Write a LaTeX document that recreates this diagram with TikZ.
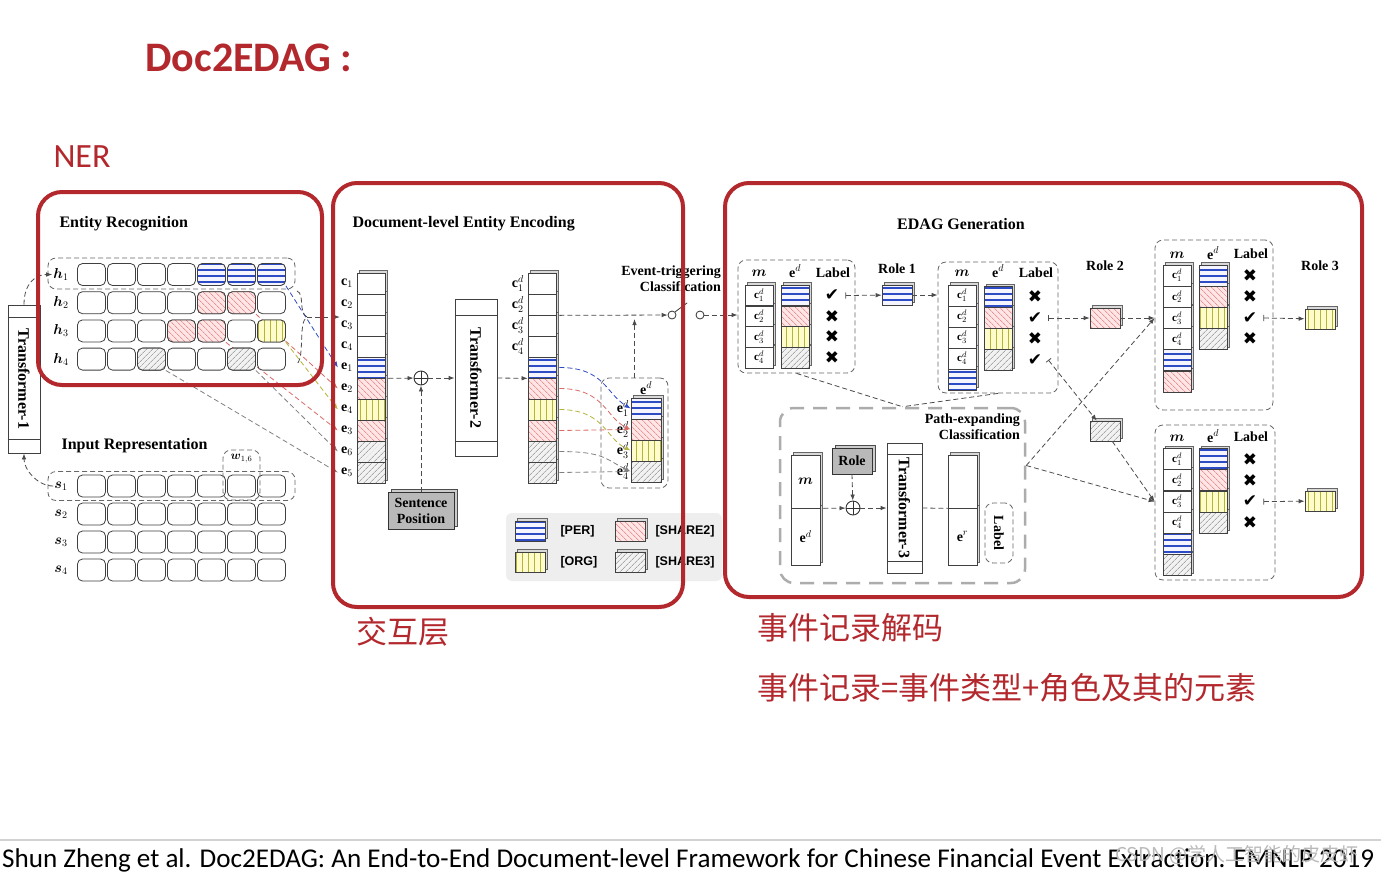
\documentclass[tikz,border=0pt]{standalone}
\usepackage{amsmath}
\usepackage{fontspec}
\setmainfont{Liberation Serif}
\newfontfamily\uifont{Carlito}
\newfontfamily\legfont{Liberation Sans}
\newfontfamily\symfont{DejaVu Sans}
\newfontfamily\cjk{Noto Sans CJK SC}
\usetikzlibrary{positioning,calc,shadows,arrows.meta,patterns.meta}
\pgfdeclarelayer{bg}
\pgfsetlayers{bg,main}

\definecolor{hired}{HTML}{B3282D}
\definecolor{perblue}{HTML}{2E4BC6}
\definecolor{orgline}{HTML}{B5B43A}
\definecolor{shred}{HTML}{DB6A66}

\newcommand{\yes}{{\symfont ✔}}
\newcommand{\nop}{{\symfont ✖}}

\tikzset{
  >={Latex[length=6pt,width=4.5pt]},
  hibox/.style={draw=hired, line width=4pt, rounded corners=24pt},
  flow/.style={draw=black!70, line width=0.8pt, dash pattern=on 5pt off 3pt},
  tok/.style={draw=black!75, line width=0.8pt, fill=white, rounded corners=5pt,
    minimum width=28pt, minimum height=22pt, inner sep=0pt},
  cell/.style={draw=black!75, line width=0.7pt, fill=white, minimum width=28pt,
    minimum height=21pt, inner sep=0pt,
    general shadow={shadow xshift=2.5pt, shadow yshift=2.5pt, fill=gray!30, draw=black!60}},
  plain/.style={},
  per/.style={preaction={fill=blue!4}, pattern={Lines[angle=0,distance=6pt,line width=1.2pt]},
    pattern color=perblue},
  org/.style={preaction={fill=yellow!20}, pattern={Lines[angle=90,distance=6pt,line width=0.9pt]},
    pattern color=orgline},
  shtwo/.style={preaction={fill=red!10}, pattern={Lines[angle=-45,distance=4pt,line width=0.6pt]},
    pattern color=shred},
  shthree/.style={preaction={fill=gray!10}, pattern={Lines[angle=45,distance=4pt,line width=0.6pt]},
    pattern color=gray},
  grp/.style={draw=black!60, line width=0.8pt, dash pattern=on 5pt off 3pt,
    rounded corners=8pt, inner sep=0pt},
  head/.style={font=\bfseries\fontsize{16}{18}\selectfont},
  lbl/.style={font=\bfseries\fontsize{14}{16}\selectfont, inner sep=1pt},
  mathlbl/.style={font=\fontsize{14}{16}\selectfont, inner sep=1pt},
  legtxt/.style={font=\legfont\bfseries\fontsize{12.5}{14}\selectfont, anchor=west},
  mk/.style={font=\fontsize{17}{18}\selectfont, inner sep=0pt},
  tfbox/.style={draw=black!75, line width=0.8pt, fill=white, inner sep=0pt},
  graybox/.style={lbl, draw=black!80, fill=gray!55,
    general shadow={shadow xshift=3pt, shadow yshift=3pt, fill=gray!40, draw=black!70}},
  addop/.style={circle, draw=black!80, line width=0.9pt, minimum size=14pt, inner sep=0pt,
    path picture={\draw[line width=0.9pt] (path picture bounding box.north) -- (path picture bounding box.south)
      (path picture bounding box.west) -- (path picture bounding box.east);}},
}

\begin{document}
\begin{tikzpicture}[x=1pt,y=-1pt]
\useasboundingbox (0,0) rectangle (1381,876);
\begin{pgfonlayer}{bg}
\fill[white] (0,0) rectangle (1381,876);
\end{pgfonlayer}

% titles
\node[anchor=west, text=hired, font=\uifont\bfseries\fontsize{42}{50}\selectfont] (title) at (142,58) {Doc2EDAG :};
\node[anchor=west, text=hired, font=\uifont\fontsize{34}{40}\selectfont] (ner) at (50,157) {NER};

% ---- entity recognition
\node[head, anchor=west] (ertitle) at (56,224) {Entity Recognition};
\node[grp, minimum width=247pt, minimum height=31pt] (hgrp) at (171.5,273.5) {};
\foreach \r in {1,...,4}{
  \node[mathlbl] (hl\r) at (61,{274.5+28.2*(\r-1)}) {$\boldsymbol{h}_{\r}$};
  \foreach \i in {1,...,7}
    \node[tok] (h\r-\i) at ({91.5+30*(\i-1)},{274.5+28.2*(\r-1)}) {};
}
\foreach \r/\i/\s in {1/5/per,1/6/per,1/7/per,2/5/shtwo,2/6/shtwo,3/4/shtwo,3/5/shtwo,3/7/org,4/3/shthree,4/6/shthree}
  \node[tok,\s] (hf\r-\i) at (h\r-\i) {};
\coordinate (brc) at (307,317);
\draw[flow] (297,291) .. controls (305,294) and (298,312) .. (brc) .. controls (298,322) and (305,356) .. (297,364);

% transformer-1
\node[tfbox, minimum width=32pt, minimum height=148pt] (tf1) at (24,379) {};
\draw[black!75] ($(tf1.north west)+(0,13)$) -- ($(tf1.north east)+(0,13)$);
\draw[black!75] ($(tf1.south west)+(0,-14)$) -- ($(tf1.south east)+(0,-14)$);
\node[head, rotate=-90] (tf1txt) at (tf1) {Transformer-1};

% ---- input representation
\node[head, anchor=west] (irtitle) at (58,446) {Input Representation};
\node[grp, minimum width=247pt, minimum height=29pt] (sgrp) at (171.5,486) {};
\foreach \r in {1,...,4}{
  \node[mathlbl] (sl\r) at (61,{486+28*(\r-1)}) {$\boldsymbol{s}_{\r}$};
  \foreach \i in {1,...,7}
    \node[tok] (s\r-\i) at ({91.5+30*(\i-1)},{486+28*(\r-1)}) {};
}
\node[grp, minimum width=37pt, minimum height=50pt] (wgrp) at (241.5,475) {};
\node[mathlbl, font=\fontsize{12}{14}\selectfont, fill=white] (wlbl) at (241.5,459) {$\boldsymbol{w}_{1,6}$};

\draw[flow,->] (tf1.north) .. controls +(0,-22) and +(-16,0) .. (hl1.west);
\draw[flow,->] (sl1.west) .. controls +(-16,0) and +(0,16) .. (tf1.south);

% ---- document-level entity encoding
\node[head, anchor=west] (detitle) at (349,224) {Document-level Entity Encoding};
\foreach \k/\s in {10/shthree,9/shthree,8/shtwo,7/org,6/shtwo,5/per,4/plain,3/plain,2/plain,1/plain}{
  \node[cell,\s] (cL\k) at (371,{283.5+21*(\k-1)}) {};
  \node[cell,\s] (cR\k) at (542,{283.5+21*(\k-1)}) {};
}
\foreach \k in {1,...,4}{
  \node[mathlbl, anchor=east] (cLl\k) at (354,{283.5+21*(\k-1)}) {$\mathbf{c}_{\k}$};
  \node[mathlbl, anchor=east] (cRl\k) at (525,{283.5+21*(\k-1)}) {$\mathbf{c}^d_{\k}$};
}
\foreach \k/\j in {5/1,6/2,7/4,8/3,9/6,10/5}
  \node[mathlbl, anchor=east] (cLl\k) at (354,{283.5+21*(\k-1)}) {$\mathbf{e}_{\j}$};
\draw[flow,->] (brc) -- (cLl3.west |- brc);

\node[addop] (add1) at (421,378) {};
\node[tfbox, minimum width=42pt, minimum height=157pt] (tf2) at (476,378) {};
\draw[black!75] ($(tf2.north west)+(0,16)$) -- ($(tf2.north east)+(0,16)$);
\draw[black!75] ($(tf2.south west)+(0,-16)$) -- ($(tf2.south east)+(0,-16)$);
\node[head, rotate=-90] (tf2txt) at (tf2) {Transformer-2};
\node[graybox, align=center, minimum width=66pt, minimum height=37pt] (spos) at (421,511) {Sentence\\Position};

\draw[flow,->] ([xshift=3pt]cL5.south east) -- (add1);
\draw[flow,->] (add1) -- (tf2.west |- add1);
\draw[flow,->] (spos.north) -- (add1);
\draw[flow,->] (tf2.east |- add1) -- (cR5.south west);

\node[grp, minimum width=67pt, minimum height=110pt] (edgrp) at (634.5,433) {};
\node[mathlbl] (edlbl) at (646,388) {$\mathbf{e}^d$};
\foreach \k/\s in {4/shthree,3/org,2/shtwo,1/per}{
  \node[cell,\s,minimum width=30pt] (ed\k) at (646,{408.5+21*(\k-1)}) {};
  \node[mathlbl, anchor=east] (edl\k) at (630,{408.5+21*(\k-1)}) {$\mathbf{e}^d_{\k}$};
}
\node[lbl, align=right, anchor=north east] (etc) at (722,265) {Event-triggering\\Classification};
\node[circle, draw=black!80, line width=0.8pt, minimum size=8pt, inner sep=0pt] (sw1) at (672,315) {};
\node[circle, draw=black!80, line width=0.8pt, minimum size=8pt, inner sep=0pt] (sw2) at (700,315) {};
\draw[black!80, line width=0.8pt] (sw1.north east) -- ++(12,-9);
\draw[flow,->] ([xshift=3pt]cR2.south east) -- (sw1);
\draw[flow,->] (edgrp.north) -- ($(edgrp.north |- sw1)+(0,4)$);

% legend
\fill[gray!13, rounded corners=6pt] (506,513) rectangle (722,581);
\node[cell,per,minimum width=30pt,minimum height=20pt] (lgper) at (530,531) {};
\node[legtxt] (lgpert) at (557,531) {[PER]};
\node[cell,shtwo,minimum width=30pt,minimum height=20pt] (lgsh2) at (630,531) {};
\node[legtxt] (lgsh2t) at (652,531) {[SHARE2]};
\node[cell,org,minimum width=30pt,minimum height=20pt] (lgorg) at (530,562) {};
\node[legtxt] (lgorgt) at (557,562) {[ORG]};
\node[cell,shthree,minimum width=30pt,minimum height=20pt] (lgsh3) at (630,562) {};
\node[legtxt] (lgsh3t) at (652,562) {[SHARE3]};

% ---- EDAG generation
\node[head] (edagtitle) at (961,224) {EDAG Generation};

% record box A
\node[grp, minimum width=117pt, minimum height=113pt] (boxA) at (796.5,316.5) {};
\node[mathlbl] (Ahm) at (759,273) {$\boldsymbol{m}$};
\node[mathlbl] (Ahe) at (795,271) {$\mathbf{e}^d$};
\node[lbl] (Ahl) at (833,273) {Label};
\foreach \k/\s/\lab in {4/shthree/\nop,3/org/\nop,2/shtwo/\nop,1/per/\yes}{
  \node[cell, minimum height=20.5pt, font=\fontsize{11}{12}\selectfont] (Am\k) at (759,{295.5+20.7*(\k-1)}) {$\mathbf{c}^d_{\k}$};
  \node[cell, \s, minimum height=20.5pt] (Ae\k) at (795,{295.5+20.7*(\k-1)}) {};
  \node[mk] (Al\k) at (832,{295.5+20.7*(\k-1)}) {\lab};
}

% record box B
\node[grp, minimum width=120pt, minimum height=131pt] (boxB) at (998,327.5) {};
\node[mathlbl] (Bhm) at (962,273) {$\boldsymbol{m}$};
\node[mathlbl] (Bhe) at (998,271) {$\mathbf{e}^d$};
\node[lbl] (Bhl) at (1036,273) {Label};
\node[cell, per] (Bm5) at (962,{295.5+21*4}) {};
\foreach \k/\s/\lab in {4/shthree/\yes,3/org/\nop,2/shtwo/\yes,1/per/\nop}{
  \node[cell, font=\fontsize{11}{12}\selectfont] (Bm\k) at (962,{295.5+21*(\k-1)}) {$\mathbf{c}^d_{\k}$};
  \node[cell, \s] (Be\k) at (998,{297+21*(\k-1)}) {};
  \node[mk] (Bl\k) at (1035,{297+21*(\k-1)}) {\lab};
}

% record box C
\node[grp, minimum width=118pt, minimum height=170pt] (boxC) at (1214,325) {};
\node[mathlbl] (Chm) at (1177,255) {$\boldsymbol{m}$};
\node[mathlbl] (Che) at (1213,253) {$\mathbf{e}^d$};
\node[lbl] (Chl) at (1251,254) {Label};
\node[cell, shtwo] (Cm6) at (1177,{275.5+21.2*5}) {};
\node[cell, per] (Cm5) at (1177,{275.5+21.2*4}) {};
\foreach \k/\s/\lab in {4/shthree/\nop,3/org/\yes,2/shtwo/\nop,1/per/\nop}{
  \node[cell, font=\fontsize{11}{12}\selectfont] (Cm\k) at (1177,{275.5+21.2*(\k-1)}) {$\mathbf{c}^d_{\k}$};
  \node[cell, \s] (Ce\k) at (1213,{275.5+21.2*(\k-1)}) {};
  \node[mk] (Cl\k) at (1250,{276+21*(\k-1)}) {\lab};
}

% record box D
\node[grp, minimum width=120pt, minimum height=155pt] (boxD) at (1215,502.5) {};
\node[mathlbl] (Dhm) at (1177,438) {$\boldsymbol{m}$};
\node[mathlbl] (Dhe) at (1213,436) {$\mathbf{e}^d$};
\node[lbl] (Dhl) at (1251,437) {Label};
\node[cell, shthree] (Dm6) at (1177,{459+21.2*5}) {};
\node[cell, per] (Dm5) at (1177,{459+21.2*4}) {};
\foreach \k/\s/\lab in {4/shthree/\nop,3/org/\yes,2/shtwo/\nop,1/per/\nop}{
  \node[cell, font=\fontsize{11}{12}\selectfont] (Dm\k) at (1177,{459+21.2*(\k-1)}) {$\mathbf{c}^d_{\k}$};
  \node[cell, \s] (De\k) at (1213,{459+21.2*(\k-1)}) {};
  \node[mk] (Dl\k) at (1250,{460+20.8*(\k-1)}) {\lab};
}

% roles
\node[cell, per, minimum width=30pt, minimum height=20pt] (role1) at (897,295) {};
\node[lbl, above=10pt of role1] (role1t) {Role 1};
\node[cell, shtwo, minimum width=30pt, minimum height=20pt] (role2) at (1105,318) {};
\node[lbl] (role2t) at (1105,266) {Role 2};
\node[cell, shthree, minimum width=30pt, minimum height=20pt] (role2b) at (1105,431) {};
\node[cell, org, minimum width=30pt, minimum height=20pt] (role3) at (1320,319) {};
\node[lbl] (role3t) at (1320,266) {Role 3};
\node[cell, org, minimum width=30pt, minimum height=20pt] (role3b) at (1320,501) {};

% path-expanding classification
\node[draw=gray!65, line width=2.5pt, dash pattern=on 14pt off 9pt, rounded corners=14pt,
  minimum width=245pt, minimum height=175pt, inner sep=0pt] (pbox) at (902.5,495.5) {};
\node[lbl, align=right, anchor=north east] (pbt) at (1021,413) {Path-expanding\\Classification};
\node[cell, minimum width=29pt, minimum height=57pt, font=\fontsize{14}{16}\selectfont] (meb) at (805.5,536.5) {$\mathbf{e}^d$};
\node[cell, minimum width=29pt, minimum height=53pt, font=\fontsize{14}{16}\selectfont] (met) at (805.5,481.5) {$\boldsymbol{m}$};
\node[graybox, minimum width=40pt, minimum height=26pt] (rolep) at (852,461) {Role};
\node[addop] (add2) at (853,508) {};
\node[tfbox, minimum width=35pt, minimum height=130pt] (tf3) at (904.5,508) {};
\draw[black!75] ($(tf3.north west)+(0,12)$) -- ($(tf3.north east)+(0,12)$);
\draw[black!75] ($(tf3.south west)+(0,-12)$) -- ($(tf3.south east)+(0,-12)$);
\node[head, rotate=-90] (tf3txt) at (tf3) {Transformer-3};
\node[cell, minimum width=29pt, minimum height=57pt, font=\fontsize{14}{16}\selectfont] (erb) at (962.5,536.5) {$\mathbf{e}^r$};
\node[cell, minimum width=29pt, minimum height=53pt] (ert) at (962.5,481.5) {};
\node[grp, minimum width=28pt, minimum height=60pt] (lbp) at (999,533) {};
\node[lbl, rotate=-90] (lbpt) at (lbp) {Label};

\draw[flow,->] ([xshift=3pt]met.south east) -- (add2);
\draw[flow,->] (add2) -- (tf3.west |- add2);
\draw[flow,->] (rolep.south) -- (add2);
\draw[flow] (tf3.east |- add2) -- (ert.south west);

% EDAG connectors
\draw[flow,->] (sw2) -- (boxA.west |- sw2);
\draw[flow,|->] ([xshift=6pt]Al1.east) -- (role1);
\draw[flow,->] (role1) -- (boxB.west |- role1);
\draw[flow,|->] ([xshift=6pt]Bl2.east) -- (role2);
\draw[flow,->] (role2) -- (boxC.west |- role2);
\draw[flow,|->] ([xshift=6pt]Bl4.east) -- (role2b);
\draw[flow,->] (role2b) -- (boxD.west |- Dl3);
\draw[flow,|->] ([xshift=6pt]Cl3.east) -- (role3);
\draw[flow,|->] ([xshift=6pt]Dl3.east) -- (role3b);
\draw[flow] (boxA.south) -- (pbox.north);
\draw[flow] (boxB.south) -- (pbox.north);
\coordinate (pout) at ($(pbox.east)+(0,-30)$);
\draw[flow,->] (pout) -- (boxC.west |- role2);
\draw[flow,->] (pout) -- (boxD.west |- Dl3);

% colored entity links
\begin{pgfonlayer}{bg}
\foreach \a/\b/\c in {h1-7/5/perblue,h2-6/6/shred,h3-7/7/orgline,h3-5/8/shred,h4-6/9/gray,h4-3/10/gray}
  \draw[flow, draw=\c, ->] (\a.south east) -- ([xshift=-2pt]cLl\b.west);
\end{pgfonlayer}
\draw[flow, draw=perblue, ->] ([xshift=3pt]cR5.east) .. controls +(45,0) and +(-25,-15) .. (ed1.west);
\draw[flow, draw=shred, ->] ([xshift=3pt]cR6.east) .. controls +(45,0) and +(-25,-12) .. (ed2.west);
\draw[flow, draw=orgline, ->] ([xshift=3pt]cR7.east) .. controls +(45,0) and +(-25,-12) .. (ed3.west);
\draw[flow, draw=shred] ([xshift=3pt]cR8.east) -- (ed2.west);
\draw[flow, draw=gray, ->] ([xshift=3pt]cR9.east) .. controls +(45,0) and +(-25,-12) .. (ed4.west);
\draw[flow, draw=gray] ([xshift=3pt]cR10.east) -- (ed4.west);

% highlight frames
\draw[hibox] (38,192) rectangle (322,385);
\draw[hibox] (333,183) rectangle (683,607);
\draw[hibox] (725,183) rectangle (1362,597);

\node[anchor=west, text=hired, font=\cjk\fontsize{31}{36}\selectfont] (jhc) at (353,632) {交互层};
\node[anchor=west, text=hired, font=\cjk\fontsize{31}{36}\selectfont] (sjjm) at (754,628) {事件记录解码};
\node[anchor=west, text=hired, font=\cjk\fontsize{31}{36}\selectfont] (sjdy) at (754,688) {事件记录=事件类型+角色及其的元素};

% citation
\draw[gray!35, line width=1.5pt] (0,840) -- (1381,840);
\node[anchor=west, inner sep=0pt, font=\uifont\fontsize{27.1}{32}\selectfont] (cite) at (2,860)
  {Shun Zheng et al. Doc2EDAG: An End-to-End Document-level Framework for Chinese Financial Event Extraction. EMNLP 2019};
\node[anchor=west, inner sep=0pt, text=gray!55, font=\cjk\fontsize{19}{21}\selectfont] (wm) at (1115,855) {CSDN @学人工智能的皮皮虾};
\end{tikzpicture}
\end{document}
